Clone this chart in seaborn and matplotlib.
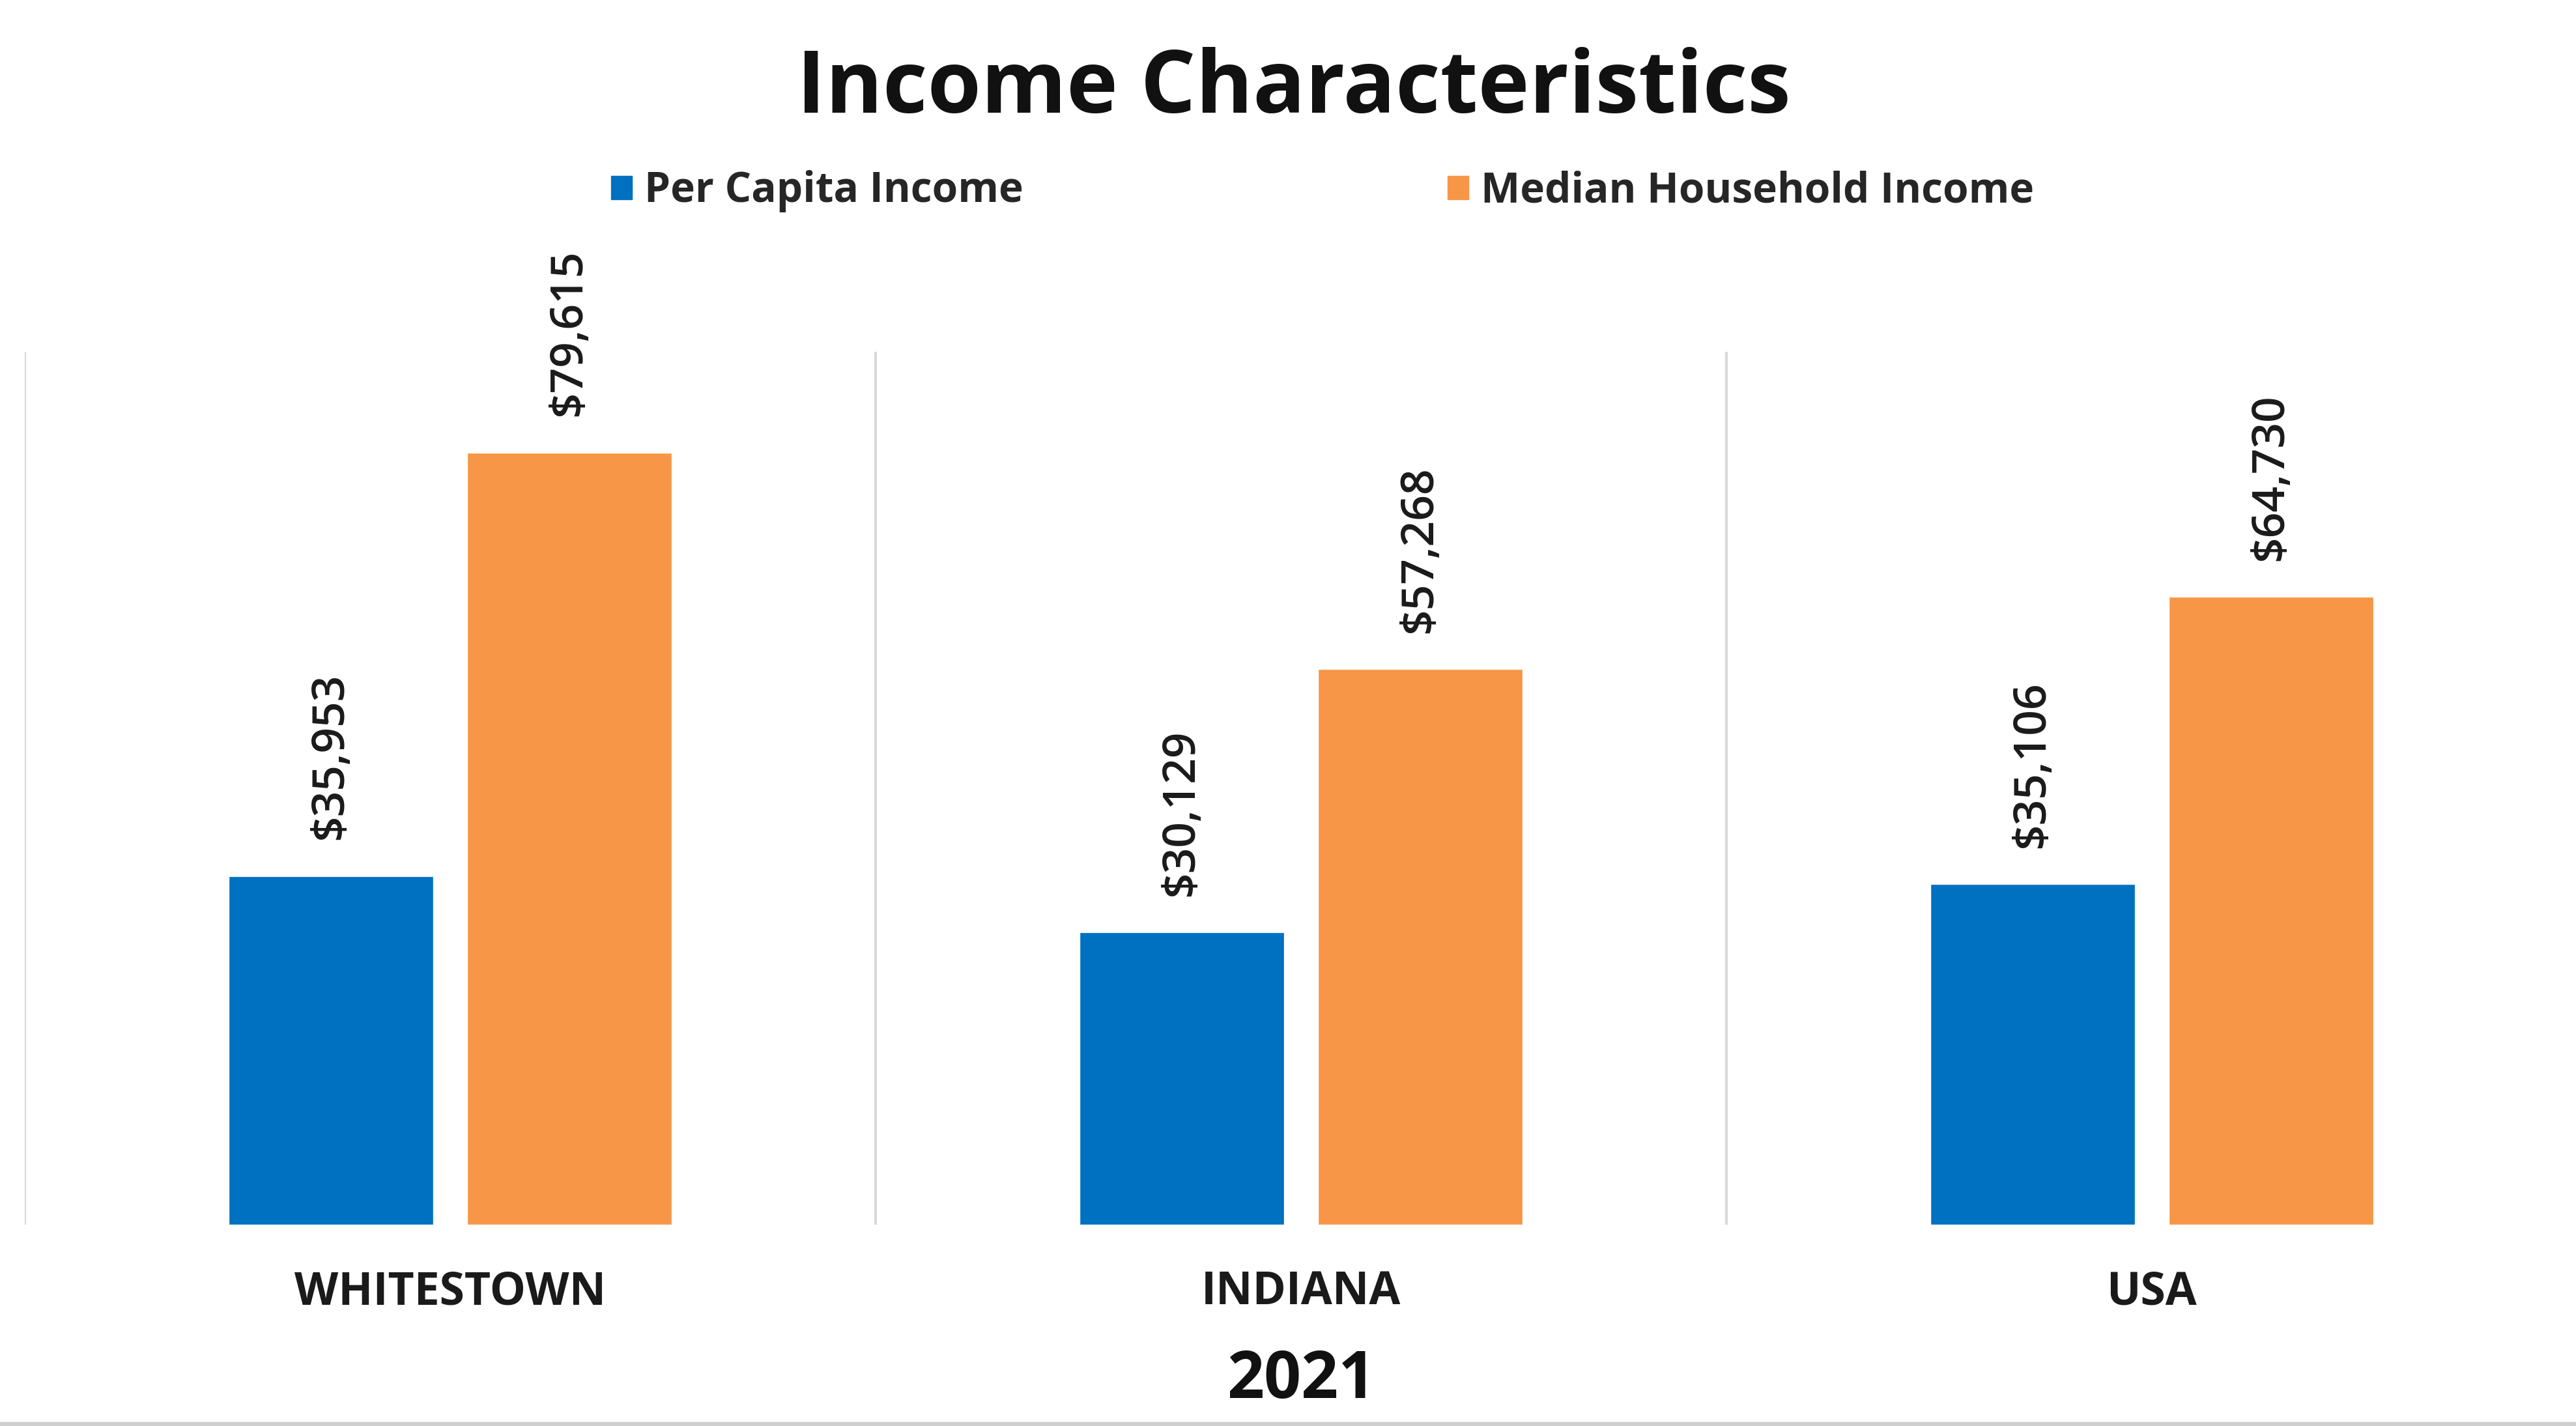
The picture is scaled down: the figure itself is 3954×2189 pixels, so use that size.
import pandas as pd
import numpy as np
import matplotlib
matplotlib.use("Agg")
import matplotlib.pyplot as plt
import seaborn as sns

# ==========================================
# DATA
# ==========================================
places = ["WHITESTOWN", "INDIANA", "USA"]
per_capita = [35953, 30129, 35106]
median_household = [79615, 57268, 64730]
series_names = ["Per Capita Income", "Median Household Income"]
year_label = "2021"

df = pd.DataFrame({
    "Place": places * 2,
    "Income": per_capita + median_household,
    "Series": [series_names[0]] * 3 + [series_names[1]] * 3,
})

# ==========================================
# STYLE
# ==========================================
sns.set_theme(style="white")
plt.rcParams["font.family"] = ["Open Sans", "DejaVu Sans"]

colors = {"Per Capita Income": "#0070C0", "Median Household Income": "#F79646"}

fig = plt.figure(figsize=(39.55, 21.89), dpi=100)
ax = fig.add_axes([38 / 3955, 309 / 2189, 3918 / 3955, 1340 / 2189])

sns.barplot(
    data=df,
    x="Place",
    y="Income",
    hue="Series",
    hue_order=series_names,
    palette=colors,
    width=0.56,
    gap=0.143,
    saturation=1,
    legend=False,
    ax=ax,
)

ax.set_xlim(-0.5, 2.5)
ax.set_ylim(0, 90000)

# value labels
for cont in ax.containers:
    ax.bar_label(
        cont,
        labels=[f"${v:,.0f}" for v in cont.datavalues],
        rotation=90,
        padding=40,
        fontsize=50,
        fontweight="semibold",
        color="#1a1a1a",
    )

# separators between groups
for xs in [-0.5, 0.5, 1.5]:
    ax.axvline(xs, ymin=0, ymax=1, color="#D9D9D9", lw=3, zorder=0)

for s in ax.spines.values():
    s.set_visible(False)
ax.set_yticks([])
ax.set_ylabel("")
ax.tick_params(axis="x", length=0, pad=50)
for lab in ax.get_xticklabels():
    lab.set_fontsize(50)
    lab.set_fontweight("bold")
    lab.set_color("#1a1a1a")
ax.set_xlabel(year_label, fontsize=72, fontweight="bold", color="#111111", labelpad=36)

# title
fig.text(0.502, 1 - 138 / 2189, "Income Characteristics", ha="center", va="center",
         fontsize=96, fontweight="bold", color="#111111")

# legend
handles = [plt.Rectangle((0, 0), 1, 1, color=colors[n]) for n in series_names]
fig.legend(
    handles, series_names,
    loc="center", bbox_to_anchor=(2030 / 3955, 1 - 294 / 2189),
    ncol=2, frameon=False, prop={"weight": "bold", "size": 46},
    handlelength=0.5, handleheight=0.5, handletextpad=0.3, columnspacing=10.2,
)

# thin grey edge at the bottom of the screenshot
fig.patches.append(plt.Rectangle((0, 0), 1, 6 / 2189, transform=fig.transFigure,
                                 color="#CFCFCF", zorder=0))

fig.savefig("out.png", dpi=100, facecolor="white")
